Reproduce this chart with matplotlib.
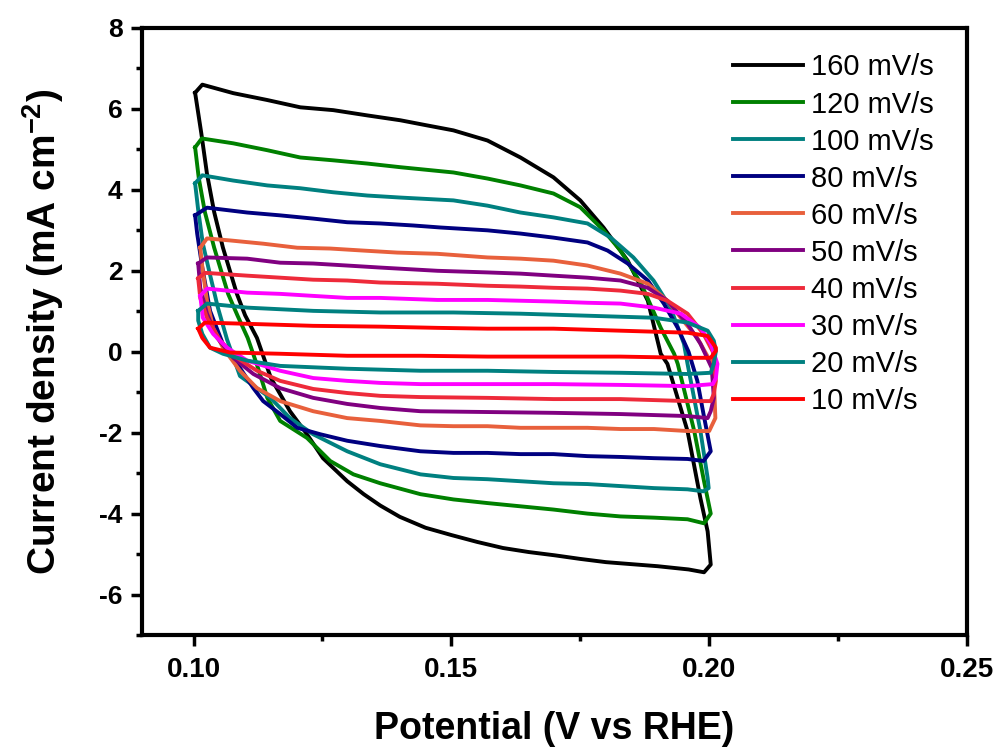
import matplotlib
matplotlib.use('Agg')
from matplotlib import pyplot as plt
from matplotlib.ticker import MultipleLocator

plt.rcParams['font.family'] = ['Liberation Sans', 'DejaVu Sans']
plt.rcParams['axes.unicode_minus'] = False
plt.rcParams['mathtext.fontset'] = 'custom'
plt.rcParams['mathtext.rm'] = 'Liberation Sans'
plt.rcParams['mathtext.bf'] = 'Liberation Sans:bold'

# scan rates and colours (legend order)
labels = ['160 mV/s', '120 mV/s', '100 mV/s', '80 mV/s', '60 mV/s',
          '50 mV/s', '40 mV/s', '30 mV/s', '20 mV/s', '10 mV/s']
colors = ['#000000', '#008000', '#008080', '#000080', '#E8603C',
          '#800080', '#EE2A3A', '#FF00FF', '#008080', '#FF0000']

# each loop: anodic branch -> switch at 0.20 V -> cathodic branch -> back to 0.10 V
x_160 = [0.1003, 0.1017, 0.1077, 0.1143, 0.1207, 0.1271, 0.1337, 0.1401, 0.1450, 0.1504,
         0.1570, 0.1634, 0.1698, 0.1750, 0.1795, 0.1842, 0.1881, 0.1906, 0.1919, 0.1958,
         0.1983, 0.1997, 0.2003, 0.1990, 0.1960, 0.1900, 0.1850, 0.1800, 0.1750, 0.1700,
         0.1650, 0.1600, 0.1550, 0.1500, 0.1450, 0.1400, 0.1362, 0.1330, 0.1298, 0.1251,
         0.1220, 0.1187, 0.1150, 0.1123, 0.1100, 0.1084, 0.1057, 0.1040, 0.1026, 0.1015,
         0.1003]
j_160 = [6.40, 6.60, 6.39, 6.22, 6.04, 5.97, 5.84, 5.72, 5.60, 5.47,
         5.22, 4.80, 4.31, 3.74, 3.07, 2.25, 1.26, -0.05, -0.30, -1.96,
         -3.62, -4.44, -5.26, -5.45, -5.38, -5.30, -5.25, -5.20, -5.12, -5.03,
         -4.95, -4.85, -4.70, -4.53, -4.35, -4.08, -3.80, -3.52, -3.20, -2.63,
         -2.04, -1.47, -0.65, 0.34, 0.90, 1.43, 2.57, 3.45, 4.40, 5.40,
         6.40]

x_120 = [0.1003, 0.1016, 0.1077, 0.1143, 0.1207, 0.1271, 0.1337, 0.1401, 0.1504, 0.1570,
         0.1634, 0.1698, 0.1750, 0.1795, 0.1828, 0.1868, 0.1906, 0.1932, 0.1939, 0.1971,
         0.1990, 0.2003, 0.1990, 0.1958, 0.1893, 0.1828, 0.1764, 0.1698, 0.1634, 0.1570,
         0.1504, 0.1440, 0.1362, 0.1310, 0.1265, 0.1220, 0.1168, 0.1143, 0.1125, 0.1105,
         0.1085, 0.1067, 0.1040, 0.1022, 0.1010, 0.1003]
j_120 = [5.05, 5.27, 5.15, 4.98, 4.80, 4.73, 4.65, 4.56, 4.43, 4.28,
         4.11, 3.91, 3.57, 3.00, 2.50, 1.68, 0.59, -0.05, -0.30, -1.96,
         -3.20, -4.00, -4.24, -4.14, -4.10, -4.07, -4.00, -3.90, -3.82, -3.74,
         -3.65, -3.52, -3.25, -3.03, -2.70, -2.13, -1.71, -1.14, -0.40, 0.34,
         0.90, 1.43, 2.57, 3.45, 4.30, 5.05]

x_100 = [0.1003, 0.1017, 0.1077, 0.1143, 0.1207, 0.1271, 0.1337, 0.1401, 0.1504, 0.1570,
         0.1634, 0.1698, 0.1764, 0.1809, 0.1853, 0.1892, 0.1925, 0.1951, 0.1958, 0.1983,
         0.1997, 0.1999, 0.1989, 0.1958, 0.1893, 0.1828, 0.1764, 0.1698, 0.1634, 0.1570,
         0.1504, 0.1440, 0.1362, 0.1298, 0.1232, 0.1187, 0.1149, 0.1090, 0.1065, 0.1047,
         0.1032, 0.1018, 0.1009, 0.1003]
j_100 = [4.16, 4.36, 4.23, 4.11, 4.04, 3.94, 3.86, 3.81, 3.74, 3.61,
         3.44, 3.32, 3.17, 2.82, 2.33, 1.76, 1.09, 0.20, -0.30, -1.96,
         -3.12, -3.37, -3.45, -3.40, -3.37, -3.32, -3.27, -3.25, -3.20, -3.15,
         -3.12, -3.03, -2.78, -2.46, -2.04, -1.64, -1.14, -0.60, 0.30, 1.10,
         1.90, 2.67, 3.50, 4.16]

x_80 = [0.1003, 0.1026, 0.1104, 0.1168, 0.1232, 0.1298, 0.1362, 0.1426, 0.1479, 0.1570,
        0.1634, 0.1698, 0.1764, 0.1803, 0.1842, 0.1881, 0.1912, 0.1939, 0.1960, 0.1977,
        0.1989, 0.2003, 0.1989, 0.1958, 0.1893, 0.1828, 0.1764, 0.1698, 0.1634, 0.1570,
        0.1504, 0.1440, 0.1362, 0.1298, 0.1246, 0.1201, 0.1168, 0.1135, 0.1116, 0.1090,
        0.1057, 0.1032, 0.1017, 0.1007, 0.1003]
j_80 = [3.37, 3.56, 3.44, 3.37, 3.29, 3.20, 3.17, 3.12, 3.07, 3.00,
        2.92, 2.82, 2.70, 2.50, 2.18, 1.76, 1.19, 0.59, 0.00, -0.72,
        -1.54, -2.46, -2.70, -2.65, -2.63, -2.60, -2.58, -2.53, -2.53, -2.50,
        -2.50, -2.46, -2.33, -2.20, -2.04, -1.88, -1.54, -1.22, -0.90, -0.40,
        0.19, 1.01, 2.08, 2.92, 3.37]

x_60 = [0.1013, 0.1026, 0.1071, 0.1135, 0.1201, 0.1265, 0.1329, 0.1395, 0.1473, 0.1570,
        0.1634, 0.1698, 0.1764, 0.1828, 0.1881, 0.1919, 0.1945, 0.1977, 0.2005, 0.2010,
        0.2012, 0.2000, 0.1958, 0.1893, 0.1828, 0.1764, 0.1698, 0.1634, 0.1570, 0.1504,
        0.1440, 0.1362, 0.1298, 0.1232, 0.1168, 0.1123, 0.1090, 0.1057, 0.1038, 0.1026,
        0.1017, 0.1013]
j_60 = [2.57, 2.80, 2.75, 2.67, 2.57, 2.55, 2.50, 2.45, 2.42, 2.33,
        2.30, 2.25, 2.13, 1.93, 1.68, 1.26, 0.84, 0.34, -0.30, -1.00,
        -1.64, -1.96, -1.96, -1.91, -1.91, -1.88, -1.88, -1.88, -1.84, -1.84,
        -1.82, -1.71, -1.64, -1.47, -1.22, -0.90, -0.47, 0.10, 0.59, 1.26,
        2.08, 2.57]

x_50 = [0.1009, 0.1026, 0.1104, 0.1168, 0.1232, 0.1298, 0.1362, 0.1473, 0.1570, 0.1634,
        0.1698, 0.1764, 0.1828, 0.1881, 0.1919, 0.1958, 0.1983, 0.2005, 0.2009, 0.2003,
        0.1997, 0.1958, 0.1828, 0.1698, 0.1570, 0.1440, 0.1362, 0.1298, 0.1232, 0.1168,
        0.1116, 0.1077, 0.1046, 0.1026, 0.1013, 0.1009]
j_50 = [2.18, 2.33, 2.30, 2.20, 2.18, 2.13, 2.08, 2.00, 1.96, 1.93,
        1.88, 1.83, 1.76, 1.58, 1.26, 0.69, 0.20, -0.40, -1.14, -1.47,
        -1.64, -1.59, -1.54, -1.51, -1.49, -1.47, -1.39, -1.29, -1.14, -0.90,
        -0.55, -0.15, 0.34, 0.94, 1.58, 2.18]

x_40 = [0.1009, 0.1022, 0.1104, 0.1168, 0.1232, 0.1298, 0.1362, 0.1473, 0.1570, 0.1634,
        0.1698, 0.1764, 0.1828, 0.1881, 0.1919, 0.1958, 0.1989, 0.2007, 0.2013, 0.2009,
        0.2003, 0.1958, 0.1828, 0.1698, 0.1570, 0.1440, 0.1362, 0.1298, 0.1232, 0.1168,
        0.1123, 0.1084, 0.1052, 0.1026, 0.1013, 0.1009]
j_40 = [1.81, 1.95, 1.88, 1.83, 1.78, 1.76, 1.71, 1.68, 1.63, 1.61,
        1.58, 1.56, 1.51, 1.43, 1.26, 0.94, 0.44, 0.00, -0.72, -1.04,
        -1.22, -1.22, -1.17, -1.17, -1.14, -1.12, -1.09, -1.02, -0.92, -0.72,
        -0.47, -0.15, 0.27, 0.84, 1.33, 1.81]

x_30 = [0.1013, 0.1026, 0.1104, 0.1168, 0.1232, 0.1298, 0.1362, 0.1473, 0.1570, 0.1634,
        0.1698, 0.1764, 0.1828, 0.1893, 0.1945, 0.1983, 0.2003, 0.2016, 0.2013, 0.2007,
        0.1958, 0.1828, 0.1698, 0.1570, 0.1440, 0.1362, 0.1298, 0.1232, 0.1168, 0.1104,
        0.1065, 0.1038, 0.1018, 0.1013]
j_30 = [1.38, 1.56, 1.46, 1.43, 1.38, 1.33, 1.33, 1.28, 1.28, 1.26,
        1.24, 1.21, 1.19, 1.09, 0.94, 0.59, 0.20, -0.30, -0.65, -0.80,
        -0.85, -0.82, -0.80, -0.80, -0.80, -0.77, -0.72, -0.65, -0.47, -0.22,
        0.10, 0.44, 0.84, 1.38]

x_20 = [0.1009, 0.1026, 0.1104, 0.1232, 0.1362, 0.1504, 0.1634, 0.1764, 0.1893, 0.1958,
        0.1997, 0.2009, 0.2013, 0.2009, 0.2003, 0.1958, 0.1828, 0.1698, 0.1570, 0.1440,
        0.1298, 0.1168, 0.1104, 0.1057, 0.1032, 0.1017, 0.1009, 0.1009]
j_20 = [1.01, 1.19, 1.09, 1.01, 0.97, 0.97, 0.94, 0.89, 0.84, 0.72,
        0.52, 0.27, 0.02, -0.30, -0.52, -0.55, -0.52, -0.50, -0.47, -0.47,
        -0.42, -0.35, -0.22, -0.05, 0.10, 0.44, 0.77, 1.01]

x_10 = [0.1009, 0.1022, 0.1104, 0.1232, 0.1362, 0.1473, 0.1570, 0.1698, 0.1828, 0.1958,
        0.1997, 0.2013, 0.2013, 0.2003, 0.1958, 0.1828, 0.1698, 0.1570, 0.1440, 0.1298,
        0.1168, 0.1071, 0.1032, 0.1017, 0.1009]
j_10 = [0.57, 0.72, 0.69, 0.64, 0.62, 0.59, 0.57, 0.57, 0.52, 0.47,
        0.39, 0.10, 0.02, -0.15, -0.15, -0.12, -0.12, -0.12, -0.10, -0.10,
        -0.05, -0.02, 0.10, 0.34, 0.57]

xs = [x_160, x_120, x_100, x_80, x_60, x_50, x_40, x_30, x_20, x_10]
js = [j_160, j_120, j_100, j_80, j_60, j_50, j_40, j_30, j_20, j_10]

fig = plt.figure(figsize=(10.01, 7.51), dpi=100)
ax = fig.add_axes([142 / 1001, 1 - 635 / 751, 825 / 1001, 607 / 751])

for x, j, c, lab in zip(xs, js, colors, labels):
    ax.plot(x, j, color=c, lw=2.8, label=lab, solid_joinstyle='round')

ax.set_xlim(0.09, 0.25)
ax.set_ylim(-7, 8)
ax.xaxis.set_minor_locator(MultipleLocator(0.025))
ax.yaxis.set_major_locator(MultipleLocator(2))
ax.yaxis.set_minor_locator(MultipleLocator(1))
ax.set_xticks([0.10, 0.15, 0.20, 0.25])
ax.set_xticklabels(['0.10', '0.15', '0.20', '0.25'])

ax.tick_params(which='major', direction='out', length=8, width=2.5)
ax.tick_params(which='minor', direction='out', length=4, width=2.5)
ax.tick_params(axis='x', labelsize=20, pad=8)
ax.tick_params(axis='y', labelsize=19, pad=6)
ax.tick_params(top=False, right=False, which='both')
for lab in ax.get_xticklabels() + ax.get_yticklabels():
    lab.set_fontweight('bold')
for sp in ax.spines.values():
    sp.set_linewidth(3)

ax.set_xlabel('Potential (V vs RHE)', fontsize=27, fontweight='bold', labelpad=20)
ax.set_ylabel(r'Current density (mA cm$^{\mathbf{-2}}$)', fontsize=28,
              fontweight='bold', labelpad=24)

ax.legend(loc='upper left', bbox_to_anchor=(0.716, 0.958), frameon=False,
          fontsize=21, handlelength=2.4, handletextpad=0.3, labelspacing=0.31,
          borderpad=0, borderaxespad=0)

fig.savefig('out.png', dpi=100)
